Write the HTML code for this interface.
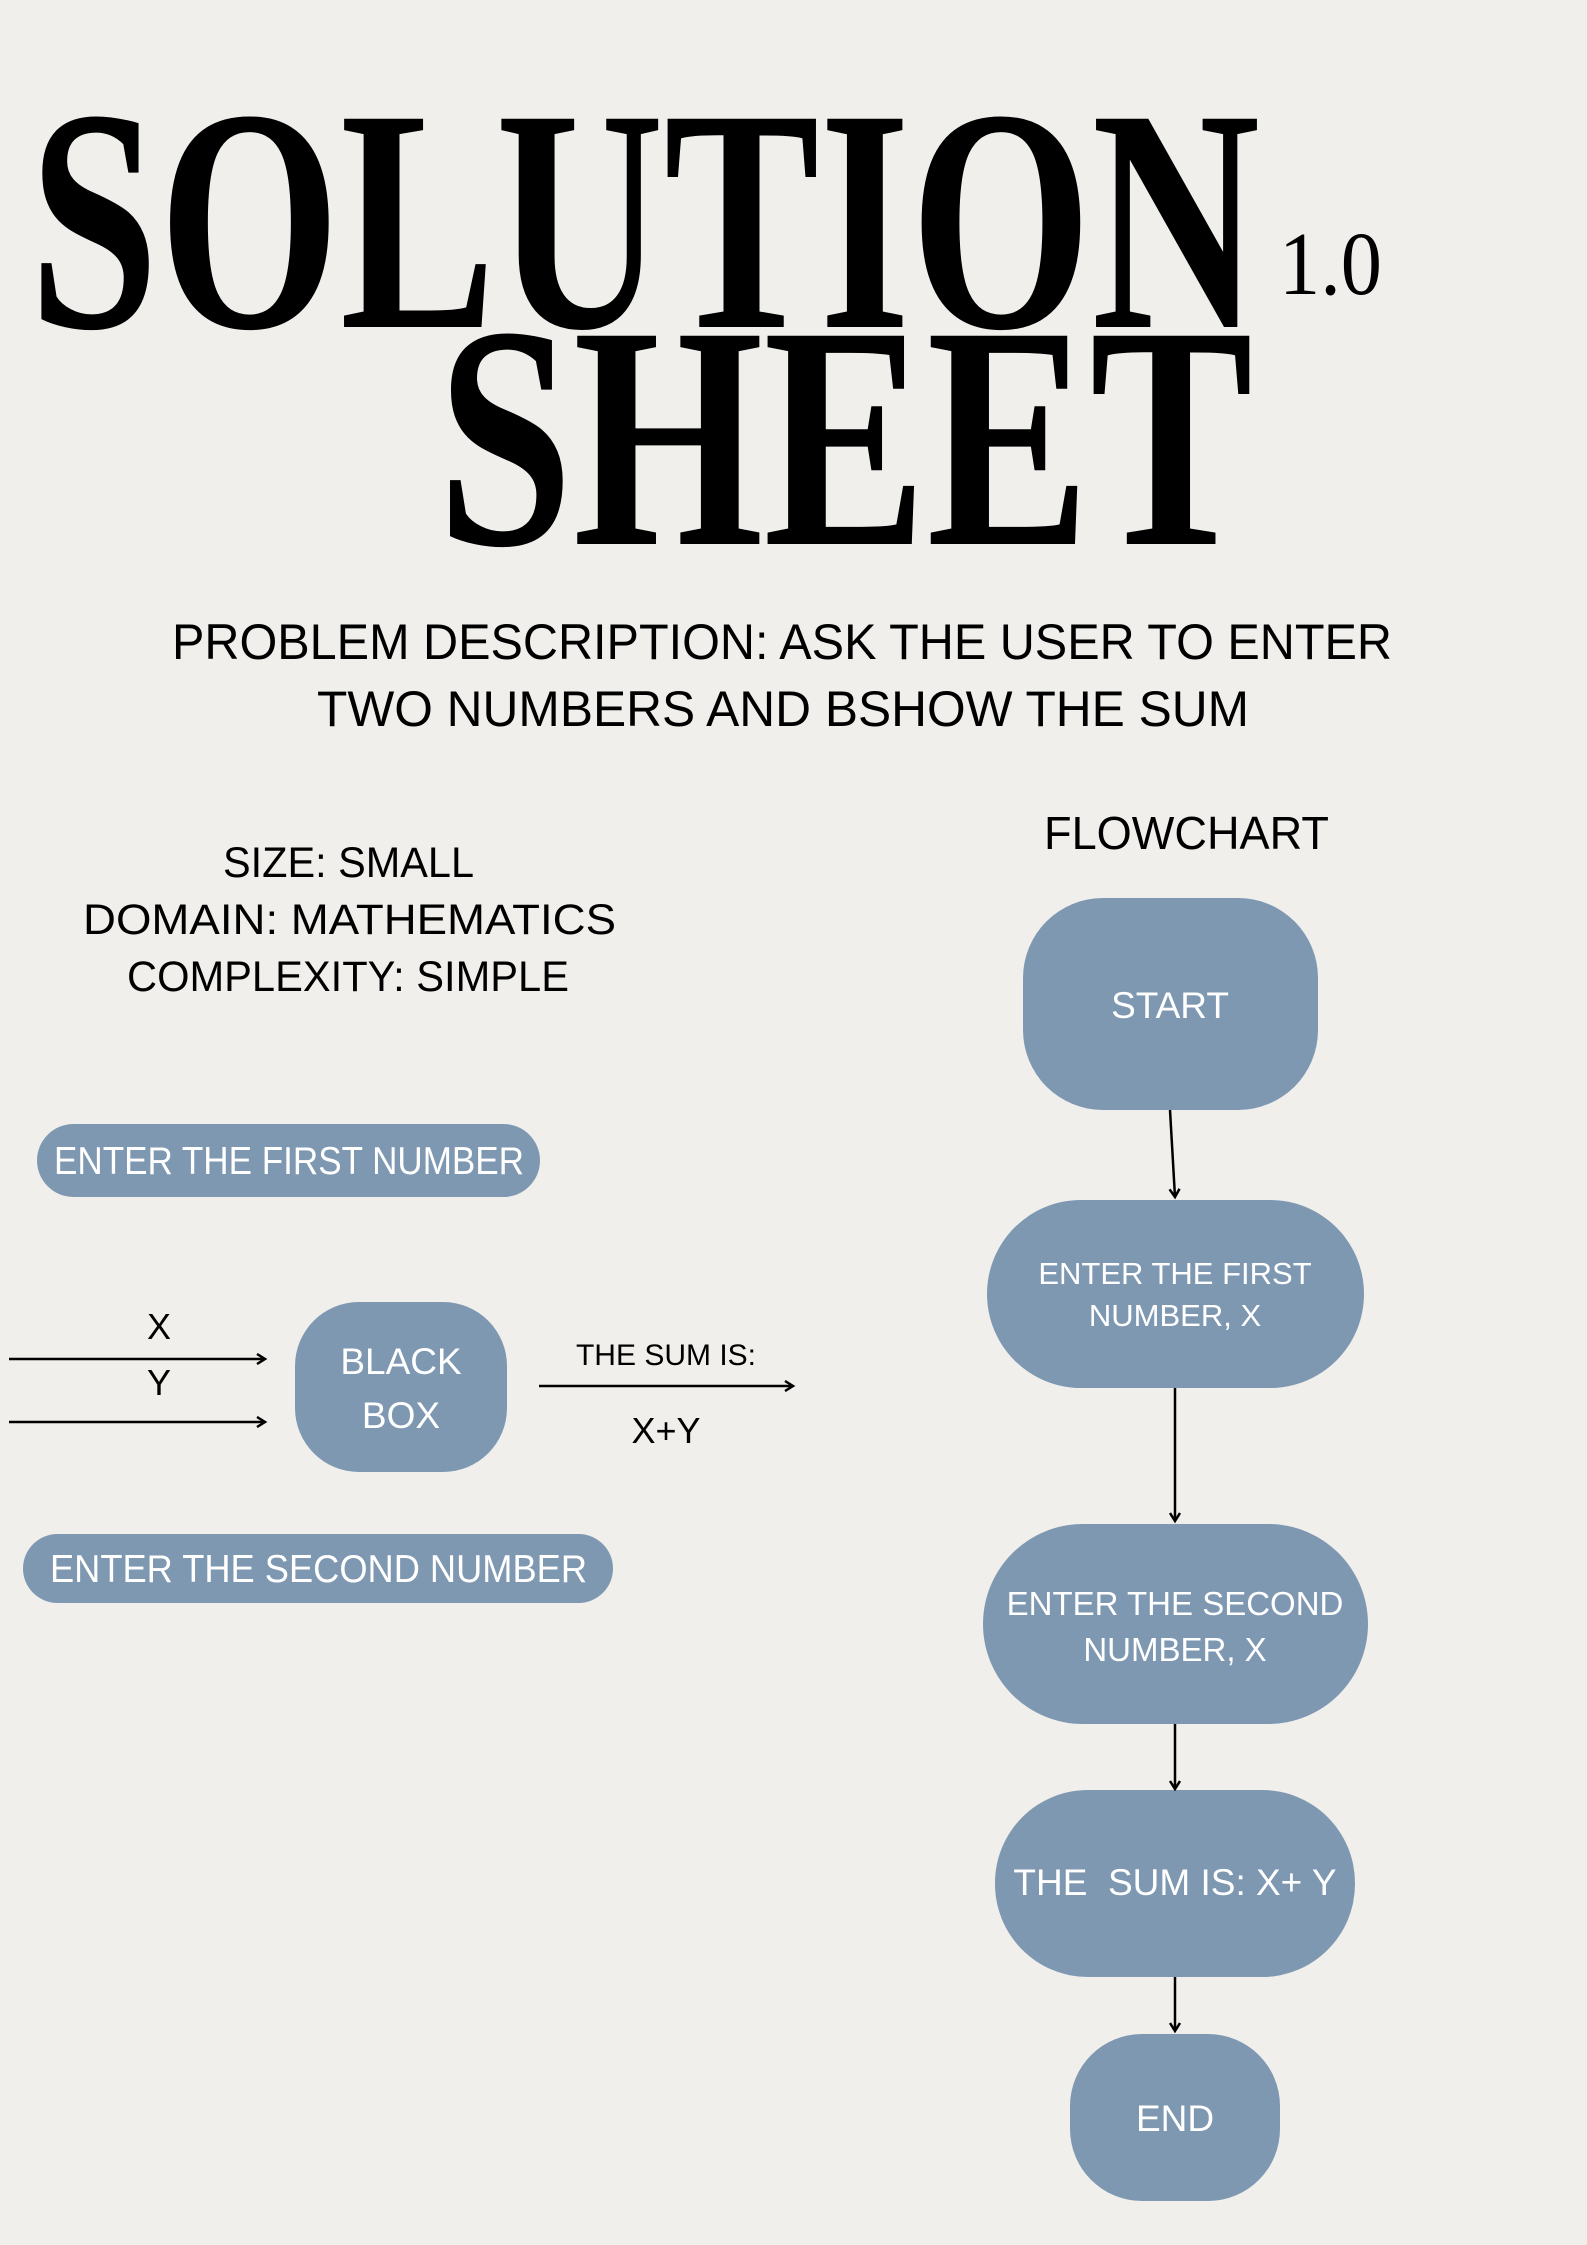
<!DOCTYPE html>
<html><head><meta charset="utf-8"><style>
html,body{margin:0;padding:0;background:#f0efeb;}
svg{display:block;}
</style></head><body>
<svg width="1587" height="2245" viewBox="0 0 1587 2245" xmlns="http://www.w3.org/2000/svg">
<rect width="1587" height="2245" fill="#f0efeb"/>
<defs>
<marker id="ah" markerWidth="12" markerHeight="12" refX="9" refY="6" orient="auto" markerUnits="userSpaceOnUse">
<path d="M1,1 L9,6 L1,11" fill="none" stroke="#000" stroke-width="2.5"/>
</marker>
</defs>
<g font-family="Liberation Serif, serif" font-weight="bold" fill="#000">
<text x="29" y="327" font-size="318" textLength="1231" lengthAdjust="spacingAndGlyphs">SOLUTION</text>
<text x="437" y="544" font-size="318" textLength="816" lengthAdjust="spacingAndGlyphs">SHEET</text>
</g>
<text x="1279" y="294" font-family="Liberation Serif, serif" font-size="90" textLength="103" lengthAdjust="spacingAndGlyphs">1.0</text>

<g font-family="Liberation Sans, sans-serif" fill="#000">
<text x="172" y="659" font-size="50" textLength="1220" lengthAdjust="spacingAndGlyphs">PROBLEM DESCRIPTION: ASK THE USER TO ENTER</text>
<text x="317" y="726" font-size="50" textLength="932" lengthAdjust="spacingAndGlyphs">TWO NUMBERS AND BSHOW THE SUM</text>
<text x="1044" y="849" font-size="46" textLength="285" lengthAdjust="spacingAndGlyphs">FLOWCHART</text>
<text x="223" y="877" font-size="43" textLength="251" lengthAdjust="spacingAndGlyphs">SIZE: SMALL</text>
<text x="83" y="934" font-size="43" textLength="533" lengthAdjust="spacingAndGlyphs">DOMAIN: MATHEMATICS</text>
<text x="127" y="991" font-size="43" textLength="442" lengthAdjust="spacingAndGlyphs">COMPLEXITY: SIMPLE</text>
</g>

<g fill="#7f98b2">
<rect x="1023" y="898" width="295" height="212" rx="80"/>
<rect x="987" y="1200" width="377" height="188" rx="94"/>
<rect x="983" y="1524" width="385" height="200" rx="100"/>
<rect x="995" y="1790" width="360" height="187" rx="93"/>
<rect x="1070" y="2034" width="210" height="167" rx="72"/>
<rect x="37" y="1124" width="503" height="73" rx="36.5"/>
<rect x="23" y="1534" width="590" height="69" rx="34.5"/>
<rect x="295" y="1302" width="212" height="170" rx="64"/>
</g>

<g stroke="#000" stroke-width="2.5" fill="none" marker-end="url(#ah)">
<line x1="1170" y1="1110" x2="1175" y2="1197"/>
<line x1="1175" y1="1388" x2="1175" y2="1521"/>
<line x1="1175" y1="1724" x2="1175" y2="1789"/>
<line x1="1175" y1="1977" x2="1175" y2="2031"/>
<line x1="9" y1="1359" x2="265" y2="1359"/>
<line x1="9" y1="1422" x2="265" y2="1422"/>
<line x1="539" y1="1386" x2="793" y2="1386"/>
</g>

<g font-family="Liberation Sans, sans-serif" fill="#fff" text-anchor="middle">
<text x="1170" y="1018" font-size="37">START</text>
<text x="1175" y="1284" font-size="31">ENTER THE FIRST</text>
<text x="1175" y="1326" font-size="31">NUMBER, X</text>
<text x="1175" y="1615" font-size="33">ENTER THE SECOND</text>
<text x="1175" y="1661" font-size="33">NUMBER, X</text>
<text x="1175" y="1895" font-size="37" xml:space="preserve">THE  SUM IS: X+ Y</text>
<text x="1175" y="2131" font-size="37">END</text>
<text x="401" y="1374" font-size="37">BLACK</text>
<text x="401" y="1428" font-size="37">BOX</text>
</g>
<g font-family="Liberation Sans, sans-serif" fill="#fff">
<text x="54" y="1174" font-size="39" textLength="470" lengthAdjust="spacingAndGlyphs">ENTER THE FIRST NUMBER</text>
<text x="50" y="1582" font-size="39" textLength="537" lengthAdjust="spacingAndGlyphs">ENTER THE SECOND NUMBER</text>
</g>
<g font-family="Liberation Sans, sans-serif" fill="#000" text-anchor="middle">
<text x="159" y="1339" font-size="36">X</text>
<text x="159" y="1395" font-size="36">Y</text>
<text x="666" y="1365" font-size="30">THE SUM IS:</text>
<text x="666" y="1443" font-size="36">X+Y</text>
</g>
</svg>
</body></html>
